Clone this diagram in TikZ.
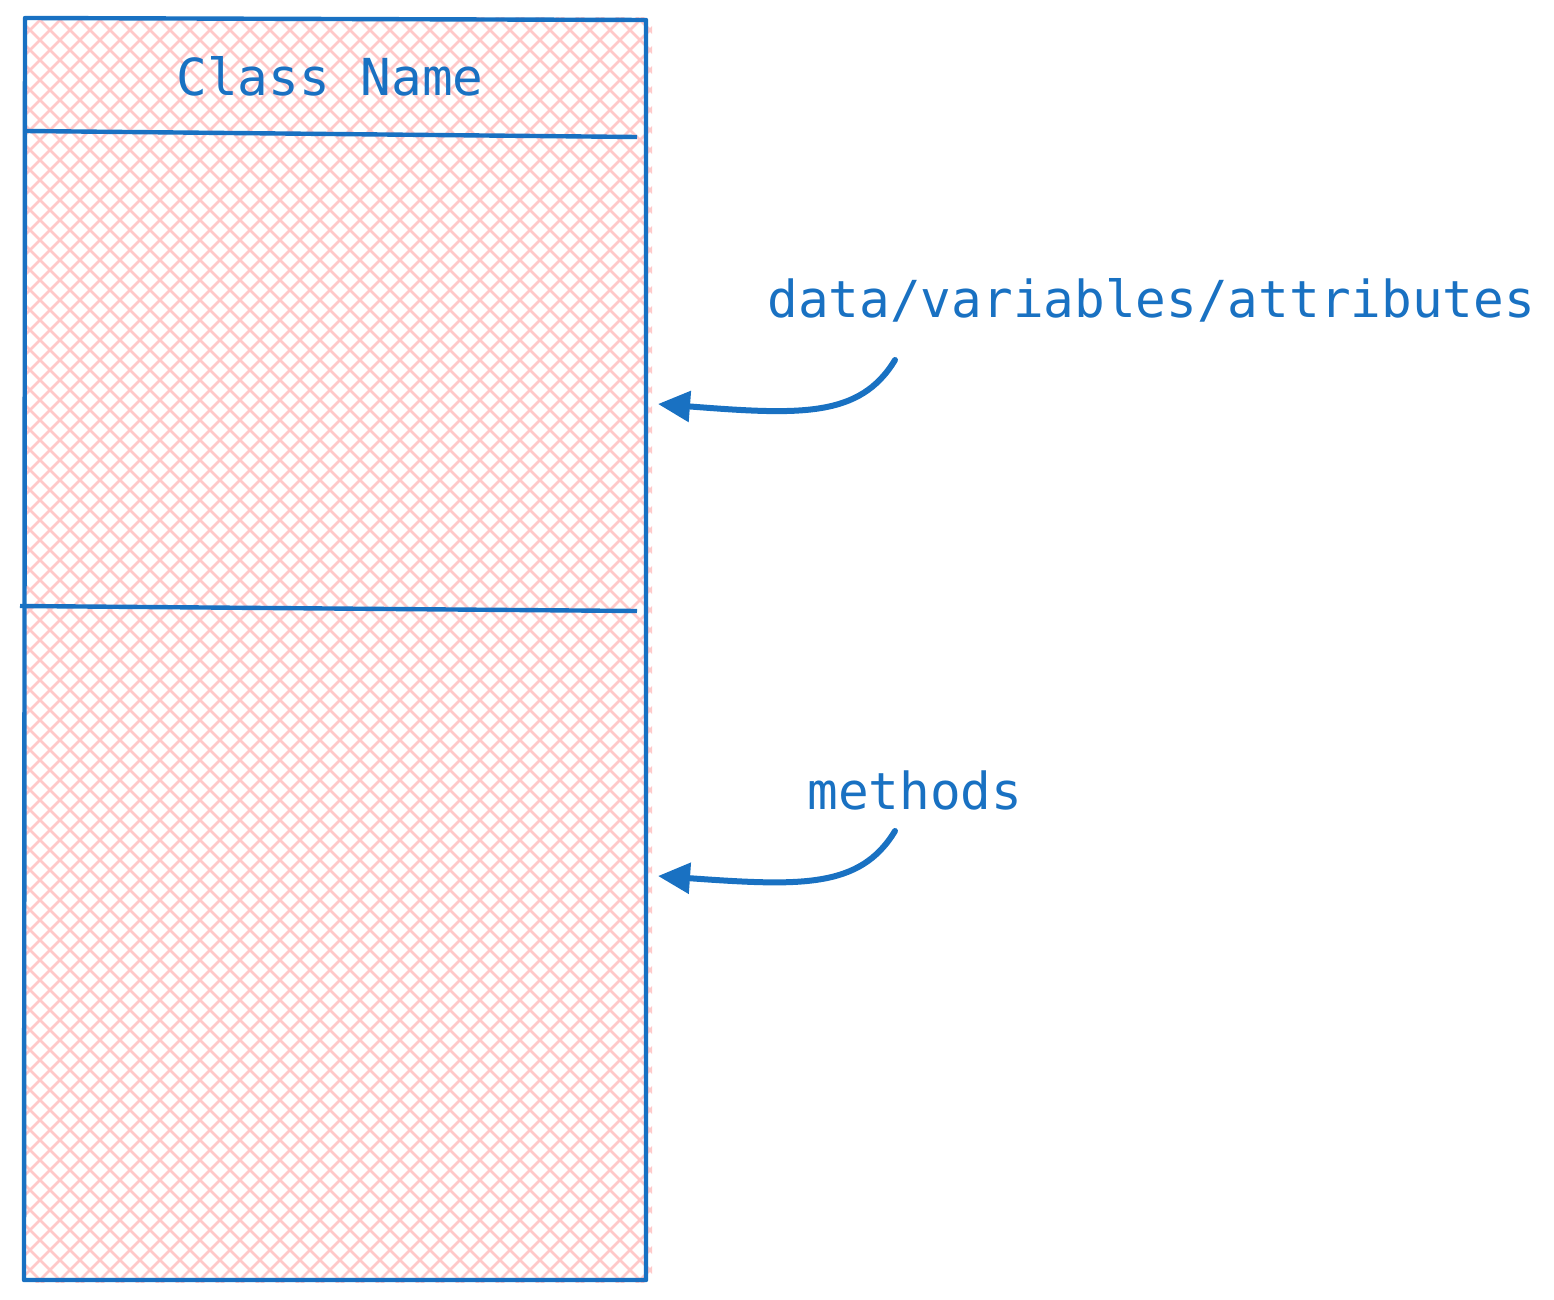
\documentclass[tikz,border=0pt]{standalone}
\usepackage{fontspec}
\setmonofont{DejaVu Sans Mono}
\usetikzlibrary{arrows.meta}
\definecolor{umlblue}{HTML}{1971C2}
\definecolor{umlpink}{HTML}{FFC9C9}
\tikzset{
  hatch/.style={umlpink, line width=1.3pt},
  outline/.style={umlblue, line width=2.2pt, line join=round},
  label/.style={umlblue, font=\ttfamily\fontsize{25.5}{30}\selectfont, inner sep=0pt},
  pointer/.style={umlblue, line width=3pt, line cap=round, -{Triangle[length=16pt,width=15pt]}}
}

\begin{document}
\begin{tikzpicture}[x=0.5pt, y=-0.5pt]
  \useasboundingbox (0 , 0) rectangle (1554 , 1300);
  % cross hatched fill
  \begin{scope}
    \clip (25 , 18) rectangle (652 , 1282);
    \foreach \i in {-1300,-1280,...,700}
      \draw [hatch] (\i , 0) -- ++(1320 , 1320);
    \foreach \i in {0,20,...,2000}
      \draw [hatch] (\i , 0) -- ++(-1320 , 1320);
  \end{scope}
  % class box
  \draw [outline] (25 , 18) -- (646 , 20) -- (646 , 1280) -- (24 , 1280) -- cycle;
  \draw [outline] (25 , 131) -- (637 , 137)
                  (20 , 606) -- (637 , 611);
  \node [label] (classname) at (330 , 76) {Class Name};
  \node [label, anchor=west] (attrlabel) at (767 , 300) {data/variables/attributes};
  \node [label, anchor=west] (methodlabel) at (807 , 790) {methods};
  % pointers
  \coordinate (attrtail) at (895 , 360);
  \coordinate (attrhead) at (658 , 404);
  \coordinate (methodtail) at (895 , 831);
  \coordinate (methodhead) at (658 , 876);
  \draw [pointer] (attrtail) .. controls (860 , 418) and (800 , 415) .. (attrhead);
  \draw [pointer] (methodtail) .. controls (860 , 889) and (800 , 886) .. (methodhead);
\end{tikzpicture}
\end{document}
